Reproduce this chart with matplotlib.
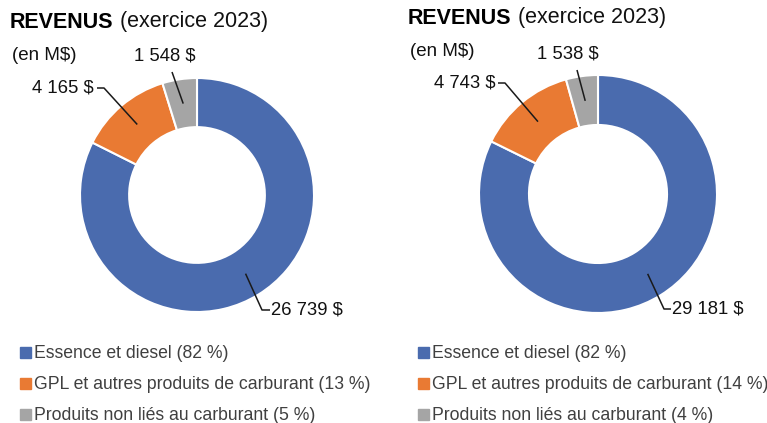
import matplotlib
matplotlib.use("Agg")
import matplotlib.pyplot as plt
import numpy as np

plt.rcParams['font.family'] = ['Liberation Sans', 'DejaVu Sans']

categories = ["Essence et diesel", "GPL et autres produits de carburant", "Produits non liés au carburant"]
values_left = [26739, 4165, 1548]
values_right = [29181, 4743, 1538]
labels_left = ["26 739 $", "4 165 $", "1 548 $"]
labels_right = ["29 181 $", "4 743 $", "1 538 $"]
pct_left = ["82 %", "13 %", "5 %"]
pct_right = ["82 %", "14 %", "4 %"]
colors = ["#4A6BAE", "#E97A33", "#A5A5A5"]

W, H = 767, 423
fig = plt.figure(figsize=(W / 100, H / 100), dpi=100)

def px_axes(cx, cy, r):
    return fig.add_axes([(cx - r) / W, (H - cy - r) / H, 2 * r / W, 2 * r / H])

def donut(cx, cy, r, vals, labs, pcts, tx, ty, label_specs):
    ax = px_axes(cx, cy, r)
    wedges, _ = ax.pie(vals, colors=colors, startangle=90, counterclock=False,
                       radius=1.0, wedgeprops=dict(width=0.42, edgecolor="white", linewidth=1.5))
    ax.set_xlim(-1, 1)
    ax.set_ylim(-1, 1)
    ax.set_aspect('equal')
    ax.axis('off')
    total = sum(vals)
    cum = 0
    for i, v in enumerate(vals):
        mid = (cum + v / 2) / total
        cum += v
        ang = np.deg2rad(90 - mid * 360)
        ax_pt = (0.79 * np.cos(ang), 0.79 * np.sin(ang))
        pts, txt_xy, ha = label_specs[i]
        xs = [ax_pt[0]] + [p[0] for p in pts]
        ys = [ax_pt[1]] + [p[1] for p in pts]
        ax.plot(xs, ys, color="#1a1a1a", lw=1.1, clip_on=False, solid_capstyle='butt')
        ax.text(txt_xy[0], txt_xy[1], labs[i], ha=ha, va='center', fontsize=13.3,
                color="#111111", clip_on=False)
    # title
    t = fig.text(tx / W, 1 - ty / H, "REVENUS", fontsize=15.5, fontweight='bold',
                 ha='left', va='center', color="#000000")
    fig.canvas.draw()
    bb = t.get_window_extent()
    fig.text((bb.x1 + 6) / W, 1 - ty / H, "(exercice 2023)", fontsize=15.5,
             ha='left', va='center', color="#111111")
    fig.text((tx + 2) / W, 1 - (ty + 34) / H, "(en M$)", fontsize=13.5,
             ha='left', va='center', color="#111111")
    # legend
    lx = tx + 10
    for i, c in enumerate(categories):
        yy = 353 + i * 31
        fig.patches.append(plt.Rectangle(((lx) / W, 1 - (yy + 5) / H), 11 / W, 11 / H,
                                         transform=fig.transFigure, color=colors[i]))
        fig.text((lx + 14) / W, 1 - yy / H, f"{c} ({pcts[i]})", fontsize=12.7,
                 ha='left', va='center', color="#404040")

def d(cx, cy, r, x, y):
    return ((x - cx) / r, (cy - y) / r)

# left donut
cxL, cyL, rL = 197, 195, 117
specL = [
    ([d(cxL, cyL, rL, 262, 310), d(cxL, cyL, rL, 270, 310)], d(cxL, cyL, rL, 271, 310), 'left'),
    ([d(cxL, cyL, rL, 104, 88), d(cxL, cyL, rL, 97, 88)], d(cxL, cyL, rL, 94, 88), 'right'),
    ([d(cxL, cyL, rL, 172, 72)], d(cxL, cyL, rL, 165, 56), 'center'),
]
donut(cxL, cyL, rL, values_left, labels_left, pct_left, 10, 22, specL)

cxR, cyR, rR = 598, 194, 119
specR = [
    ([d(cxR, cyR, rR, 664, 309), d(cxR, cyR, rR, 671, 309)], d(cxR, cyR, rR, 672, 309), 'left'),
    ([d(cxR, cyR, rR, 505, 83), d(cxR, cyR, rR, 498, 83)], d(cxR, cyR, rR, 495, 83), 'right'),
    ([d(cxR, cyR, rR, 577, 70)], d(cxR, cyR, rR, 568, 54), 'center'),
]
donut(cxR, cyR, rR, values_right, labels_right, pct_right, 408, 18, specR)

fig.savefig("out.png", dpi=100)
